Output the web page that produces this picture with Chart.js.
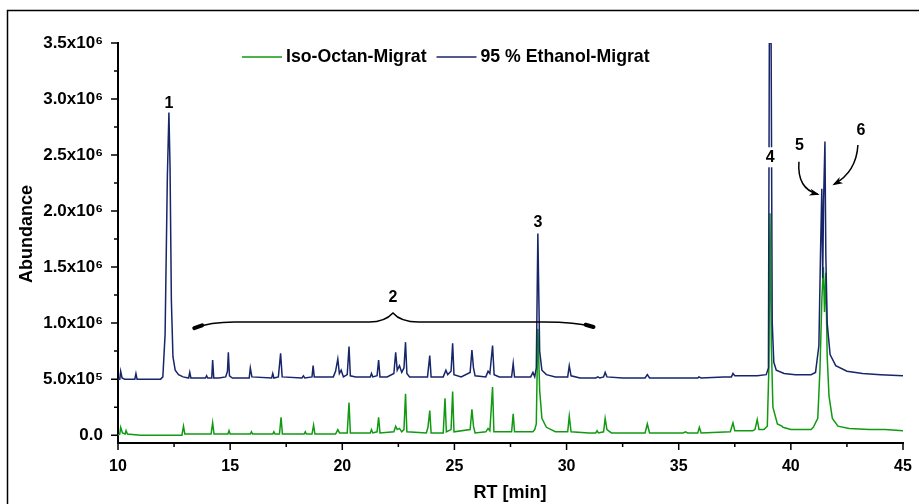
<!DOCTYPE html>
<html>
<head>
<meta charset="utf-8">
<script src="https://cdn.jsdelivr.net/npm/chart.js@4.4.0/dist/chart.umd.min.js"></script>
<style>
    body { margin: 0; background: #fff; }
</style>
</head>
<body>
<canvas id="Chart1" width="919" height="504"></canvas>
<script>
// retention times [min] and abundance [x10^6]
const rtIso = [10.0, 10.08, 10.12, 10.2, 10.32, 10.36, 10.42, 11.0, 12.85, 12.92, 12.98, 13.3, 14.15, 14.22, 14.28, 14.9, 14.95, 15.0,
    15.9, 15.95, 16.0, 16.9, 16.95, 17.0, 17.2, 17.27, 17.33, 18.3, 18.35, 18.4, 18.65, 18.72, 18.78, 19.7, 19.8, 19.88, 20.22, 20.3, 20.36,
    21.25, 21.3, 21.36, 21.55, 21.62, 21.68, 22.3, 22.38, 22.45, 22.55, 22.65, 22.75, 22.82, 22.88, 23.75, 23.82, 23.9, 23.96,
    24.5, 24.58, 24.64, 24.85, 24.92, 24.98, 25.7, 25.78, 25.85, 25.92, 26.4, 26.5, 26.58, 26.7, 26.76, 27.55, 27.62, 27.68,
    28.5, 28.58, 28.65, 28.72, 28.8, 28.9, 29.1, 29.5, 30.05, 30.12, 30.2, 31.0, 31.3, 31.36, 31.42, 31.65, 31.72, 31.8, 32.0,
    33.5, 33.6, 33.7, 35.2, 35.3, 35.4, 35.85, 35.92, 36.0, 37.3, 37.42, 37.5, 38.3, 38.4, 38.5, 38.58, 38.8, 38.95, 39.02, 39.07,
    39.13, 39.2, 39.4, 39.6, 39.65, 40.0, 40.9, 41.0, 41.2, 41.3, 41.38, 41.45, 41.5, 41.56, 41.62, 41.7, 41.85, 42.1, 42.6, 43.5, 44.2, 45.0];
const abIso = [0.0, 0.01, 0.07, 0.02, 0.01, 0.04, 0.01, 0.0, 0.0, 0.08, 0.01, 0.01, 0.01, 0.11, 0.01, 0.01, 0.04, 0.01,
    0.01, 0.03, 0.01, 0.01, 0.03, 0.01, 0.01, 0.16, 0.01, 0.01, 0.03, 0.01, 0.01, 0.09, 0.01, 0.01, 0.05, 0.02, 0.02, 0.29, 0.02,
    0.02, 0.05, 0.02, 0.03, 0.16, 0.02, 0.03, 0.08, 0.05, 0.06, 0.03, 0.05, 0.37, 0.03, 0.02, 0.07, 0.22, 0.02,
    0.02, 0.33, 0.03, 0.05, 0.39, 0.03, 0.05, 0.23, 0.08, 0.02, 0.03, 0.06, 0.04, 0.43, 0.03, 0.03, 0.19, 0.03,
    0.03, 0.05, 0.10, 0.95, 0.40, 0.15, 0.07, 0.03, 0.03, 0.17, 0.03, 0.02, 0.02, 0.04, 0.02, 0.03, 0.15, 0.05, 0.02,
    0.02, 0.10, 0.02, 0.02, 0.03, 0.02, 0.02, 0.07, 0.02, 0.03, 0.11, 0.04, 0.04, 0.05, 0.14, 0.05, 0.05, 0.08, 0.6, 1.98,
    0.8, 0.25, 0.10, 0.08, 0.07, 0.05, 0.05, 0.07, 0.15, 0.6, 1.2, 1.5, 1.1, 1.45, 0.7, 0.35, 0.15, 0.08, 0.06, 0.05, 0.05, 0.04];

const rtEth = [10.0, 10.08, 10.12, 10.18, 10.3, 10.75, 10.8, 10.85, 11.9, 12.0, 12.1, 12.2, 12.27, 12.32, 12.38, 12.45, 12.55, 12.7, 12.9,
    13.15, 13.2, 13.25, 13.9, 13.95, 14.0, 14.18, 14.22, 14.27, 14.5, 14.8, 14.88, 14.92, 14.97, 15.1, 15.85, 15.9, 15.97,
    16.85, 16.9, 16.95, 17.15, 17.25, 17.32, 18.2, 18.27, 18.33, 18.65, 18.7, 18.75, 19.6, 19.7, 19.8, 19.87, 19.95, 20.05,
    20.22, 20.3, 20.36, 20.6, 21.25, 21.3, 21.36, 21.55, 21.62, 21.68, 22.0, 22.3, 22.38, 22.45, 22.55, 22.65, 22.75, 22.82, 22.88,
    23.0, 23.8, 23.9, 23.96, 24.5, 24.62, 24.7, 24.85, 24.92, 24.98, 25.3, 25.7, 25.78, 25.85, 25.92, 26.4, 26.5, 26.58, 26.7, 26.77,
    27.0, 27.55, 27.62, 27.68, 28.4, 28.5, 28.58, 28.65, 28.72, 28.8, 28.9, 29.1, 29.5, 30.05, 30.12, 30.2, 30.6, 31.3, 31.4, 31.48,
    31.65, 31.72, 31.8, 32.5, 33.5, 33.6, 33.7, 35.3, 35.85, 35.9, 36.0, 37.0, 37.35, 37.42, 37.5, 38.5, 38.9, 39.0, 39.04, 39.12,
    39.17, 39.24, 39.35, 39.7, 40.2, 40.9, 41.1, 41.25, 41.32, 41.38, 41.42, 41.46, 41.52, 41.56, 41.62, 41.75, 42.0, 42.5, 43.2, 44.0, 45.0];
const abEth = [0.50, 0.50, 0.57, 0.51, 0.50, 0.50, 0.55, 0.50, 0.50, 0.52, 0.90, 2.3, 2.88, 2.4, 1.2, 0.70, 0.58, 0.54, 0.52,
    0.51, 0.56, 0.51, 0.51, 0.53, 0.51, 0.51, 0.67, 0.51, 0.51, 0.52, 0.57, 0.74, 0.53, 0.51, 0.51, 0.60, 0.52,
    0.51, 0.55, 0.51, 0.52, 0.73, 0.52, 0.51, 0.53, 0.51, 0.52, 0.62, 0.52, 0.52, 0.57, 0.68, 0.55, 0.58, 0.52,
    0.54, 0.79, 0.53, 0.52, 0.52, 0.55, 0.52, 0.53, 0.67, 0.52, 0.52, 0.55, 0.74, 0.58, 0.62, 0.56, 0.60, 0.83, 0.55,
    0.52, 0.52, 0.71, 0.52, 0.52, 0.58, 0.54, 0.57, 0.82, 0.54, 0.52, 0.56, 0.76, 0.60, 0.53, 0.52, 0.57, 0.55, 0.80, 0.54,
    0.52, 0.52, 0.64, 0.52, 0.52, 0.56, 0.52, 0.60, 1.80, 0.75, 0.58, 0.54, 0.52, 0.52, 0.62, 0.53, 0.51, 0.51, 0.52, 0.51,
    0.52, 0.56, 0.52, 0.51, 0.51, 0.54, 0.51, 0.51, 0.51, 0.52, 0.51, 0.52, 0.52, 0.55, 0.53, 0.53, 0.54, 0.60, 3.5, 3.5,
    1.0, 0.65, 0.58, 0.55, 0.54, 0.54, 0.56, 0.80, 1.6, 2.2, 1.4, 2.1, 2.62, 1.6, 1.0, 0.72, 0.62, 0.57, 0.55, 0.54, 0.53];

const xTicks = [10, 15, 20, 25, 30, 35, 40, 45];
const xMinorTicks = [12.5, 17.5, 22.5, 27.5, 32.5, 37.5, 42.5];
const yTicks = [0, 0.5, 1.0, 1.5, 2.0, 2.5, 3.0, 3.5];
const yTickLabels = ['0.0', '5.0x10\u2075', '1.0x10\u2076', '1.5x10\u2076', '2.0x10\u2076', '2.5x10\u2076', '3.0x10\u2076', '3.5x10\u2076'];
const yMinorTicks = [0.25, 0.75, 1.25, 1.75, 2.25, 2.75, 3.25];

const seriesNames = ['Iso-Octan-Migrat', '95 % Ethanol-Migrat'];
const seriesColors = ['#119a11', '#17256a'];

// peak numbers, [rt, abundance]
const peakLabels = [
    {text: '1', t: 12.27, v: 2.96},
    {text: '2', t: 22.26, v: 1.23},
    {text: '3', t: 28.72, v: 1.90},
    {text: '4', t: 39.08, v: 2.48, box: true},
    {text: '5', t: 40.38, v: 2.58},
    {text: '6', t: 43.12, v: 2.72}
];

const FONT = '"Liberation Sans", Arial, sans-serif';

function toPoints(ts, vs) {
    return ts.map((t, i) => ({x: t, y: vs[i]}));
}

const decorations = {
    id: 'decorations',
    beforeDraw(chart) {
        const ctx = chart.ctx;
        ctx.save();
        ctx.fillStyle = '#fff';
        ctx.fillRect(0, 0, chart.width, chart.height);
        ctx.strokeStyle = '#000';
        ctx.lineWidth = 1.5;
        ctx.beginPath();
        ctx.moveTo(7.5, chart.height);
        ctx.lineTo(7.5, 10.5);
        ctx.lineTo(chart.width, 10.5);
        ctx.stroke();
        ctx.restore();
    },
    afterDraw(chart) {
        const ctx = chart.ctx;
        const xs = chart.scales.x;
        const ys = chart.scales.y;
        const px = t => xs.getPixelForValue(t);
        const py = v => ys.getPixelForValue(v);
        const area = chart.chartArea;
        ctx.save();

        // tick marks
        ctx.strokeStyle = '#000';
        ctx.lineWidth = 1.5;
        ctx.beginPath();
        yTicks.forEach(v => { ctx.moveTo(area.left - 7, py(v)); ctx.lineTo(area.left, py(v)); });
        yMinorTicks.forEach(v => { ctx.moveTo(area.left - 4, py(v)); ctx.lineTo(area.left, py(v)); });
        xTicks.forEach(t => { ctx.moveTo(px(t), area.bottom); ctx.lineTo(px(t), area.bottom + 7); });
        xMinorTicks.forEach(t => { ctx.moveTo(px(t), area.bottom); ctx.lineTo(px(t), area.bottom + 4); });
        ctx.stroke();

        // axis titles
        ctx.fillStyle = '#000';
        ctx.font = 'bold 18px ' + FONT;
        ctx.textAlign = 'center';
        ctx.textBaseline = 'middle';
        ctx.fillText('RT [min]', 510, 493);
        ctx.save();
        ctx.translate(27, 234);
        ctx.rotate(-Math.PI / 2);
        ctx.fillText('Abundance', 0, 0);
        ctx.restore();

        // legend
        ctx.font = 'bold 17.7px ' + FONT;
        ctx.textAlign = 'left';
        let lx = 242;
        const ly = 57;
        seriesNames.forEach((name, i) => {
            ctx.strokeStyle = seriesColors[i];
            ctx.lineWidth = 1.5;
            ctx.beginPath();
            ctx.moveTo(lx, ly);
            ctx.lineTo(lx + 40, ly);
            ctx.stroke();
            ctx.fillStyle = '#000';
            ctx.fillText(name, lx + 44, ly);
            lx += 44 + ctx.measureText(name).width + 10;
        });

        // peak numbers
        ctx.font = 'bold 16px ' + FONT;
        ctx.textAlign = 'center';
        peakLabels.forEach(p => {
            if (p.box) {
                ctx.fillStyle = '#fff';
                ctx.fillRect(px(p.t) - 6, py(p.v) - 10, 12, 20);
            }
            ctx.fillStyle = '#000';
            ctx.fillText(p.text, px(p.t), py(p.v));
        });

        // brace over the peak group 2
        ctx.strokeStyle = '#000';
        ctx.lineWidth = 1.5;
        ctx.beginPath();
        ctx.moveTo(px(13.4), py(0.955));
        ctx.quadraticCurveTo(px(14.1), py(1.01), px(15.2), py(1.01));
        ctx.lineTo(px(21.2), py(1.01));
        ctx.quadraticCurveTo(px(21.9), py(1.01), px(22.26), py(1.09));
        ctx.quadraticCurveTo(px(22.6), py(1.01), px(23.4), py(1.01));
        ctx.lineTo(px(29.0), py(1.01));
        ctx.quadraticCurveTo(px(30.4), py(1.01), px(31.2), py(0.965));
        ctx.stroke();
        ctx.lineWidth = 4;
        ctx.lineCap = 'round';
        ctx.beginPath();
        ctx.moveTo(px(13.4), py(0.955));
        ctx.lineTo(px(13.75), py(0.98));
        ctx.moveTo(px(31.2), py(0.965));
        ctx.lineTo(px(30.85), py(0.985));
        ctx.stroke();

        // arrows to peaks 5 and 6
        drawArrow(ctx, px(40.36), py(2.44), px(40.27), py(2.2), px(41.2), py(2.15));
        drawArrow(ctx, px(42.99), py(2.59), px(42.92), py(2.35), px(41.93), py(2.24));
        ctx.restore();
    }
};

function drawArrow(ctx, x0, y0, cx, cy, x1, y1) {
    ctx.strokeStyle = '#000';
    ctx.fillStyle = '#000';
    ctx.lineWidth = 1.5;
    ctx.lineCap = 'butt';
    ctx.beginPath();
    ctx.moveTo(x0, y0);
    ctx.quadraticCurveTo(cx, cy, x1, y1);
    ctx.stroke();
    const ang = Math.atan2(y1 - cy, x1 - cx);
    const len = 9;
    ctx.beginPath();
    ctx.moveTo(x1 + 2 * Math.cos(ang), y1 + 2 * Math.sin(ang));
    ctx.lineTo(x1 - len * Math.cos(ang - 0.4), y1 - len * Math.sin(ang - 0.4));
    ctx.lineTo(x1 - len * 0.6 * Math.cos(ang), y1 - len * 0.6 * Math.sin(ang));
    ctx.lineTo(x1 - len * Math.cos(ang + 0.4), y1 - len * Math.sin(ang + 0.4));
    ctx.closePath();
    ctx.fill();
}

const ctx = document.getElementById('Chart1').getContext('2d');
const chromChart = new Chart(ctx, {
    type: 'line',
    data: {
        datasets: [{
                label: seriesNames[0],
                data: toPoints(rtIso, abIso),
                borderColor: seriesColors[0],
                borderWidth: 1.5,
                pointRadius: 0,
                tension: 0,
                order: 2
            }, {
                label: seriesNames[1],
                data: toPoints(rtEth, abEth),
                borderColor: seriesColors[1],
                borderWidth: 1.5,
                pointRadius: 0,
                tension: 0,
                order: 1
            }]
    },
    options: {
        responsive: false,
        animation: false,
        events: [],
        layout: {padding: {top: 43, right: 16, left: 0, bottom: 0}},
        plugins: {
            legend: {display: false},
            tooltip: {enabled: false}
        },
        scales: {
            x: {
                type: 'linear',
                min: 10,
                max: 45,
                afterBuildTicks: s => { s.ticks = xTicks.map(v => ({value: v})); },
                afterFit: s => { s.height = 61; s.paddingLeft = 0; s.paddingRight = 0; },
                grid: {display: false, drawTicks: false},
                border: {display: true, color: '#000', width: 2},
                ticks: {
                    color: '#000',
                    font: {family: FONT, size: 16, weight: 'bold'},
                    padding: 14,
                    maxRotation: 0
                }
            },
            y: {
                min: -0.07,
                max: 3.5,
                afterBuildTicks: s => { s.ticks = yTicks.map(v => ({value: v})); },
                afterFit: s => { s.width = 118; s.paddingTop = 0; s.paddingBottom = 0; },
                grid: {display: false, drawTicks: false},
                border: {display: true, color: '#000', width: 2},
                ticks: {
                    color: '#000',
                    font: {family: FONT, size: 17, weight: 'bold'},
                    padding: 15,
                    callback: (v, i) => yTickLabels[i]
                }
            }
        }
    },
    plugins: [decorations]
});
</script>
</body>
</html>
